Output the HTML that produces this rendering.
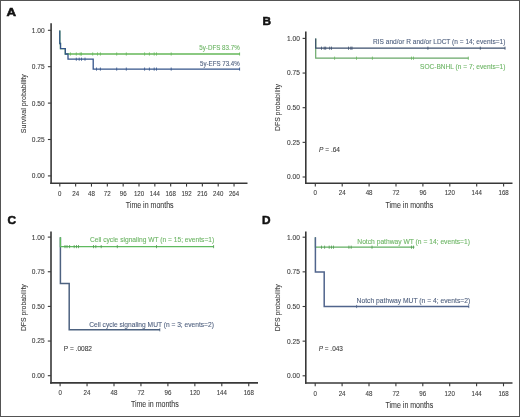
<!DOCTYPE html>
<html><head><meta charset="utf-8"><title>Kaplan-Meier curves</title>
<style>
html,body{margin:0;padding:0;background:#fff;}
body{width:520px;height:417px;overflow:hidden;}
.wrap{position:relative;width:520px;height:417px;box-sizing:border-box;border:1px solid #545454;background:#fff;}
svg{position:absolute;left:-1px;top:-1px;font-family:"Liberation Sans", sans-serif;will-change:transform;filter:blur(0.3px);}
</style></head>
<body><div class="wrap">
<svg width="520" height="417" viewBox="0 0 520 417">
<line x1="51.1" y1="23.2" x2="51.1" y2="184.1" stroke="#383838" stroke-width="1.6"/>
<line x1="50.3" y1="183.3" x2="247.5" y2="183.3" stroke="#383838" stroke-width="1.6"/>
<line x1="47.9" y1="30.3" x2="51.1" y2="30.3" stroke="#383838" stroke-width="1.1"/>
<text x="44.6" y="32.7" font-size="6.8" text-anchor="end" fill="#3c3c3c" stroke="#3c3c3c" stroke-width="0.1" font-weight="normal" font-style="normal" textLength="12.8" lengthAdjust="spacingAndGlyphs" >1.00</text>
<line x1="47.9" y1="66.7" x2="51.1" y2="66.7" stroke="#383838" stroke-width="1.1"/>
<text x="44.6" y="69.1" font-size="6.8" text-anchor="end" fill="#3c3c3c" stroke="#3c3c3c" stroke-width="0.1" font-weight="normal" font-style="normal" textLength="12.8" lengthAdjust="spacingAndGlyphs" >0.75</text>
<line x1="47.9" y1="103.1" x2="51.1" y2="103.1" stroke="#383838" stroke-width="1.1"/>
<text x="44.6" y="105.5" font-size="6.8" text-anchor="end" fill="#3c3c3c" stroke="#3c3c3c" stroke-width="0.1" font-weight="normal" font-style="normal" textLength="12.8" lengthAdjust="spacingAndGlyphs" >0.50</text>
<line x1="47.9" y1="139.5" x2="51.1" y2="139.5" stroke="#383838" stroke-width="1.1"/>
<text x="44.6" y="141.9" font-size="6.8" text-anchor="end" fill="#3c3c3c" stroke="#3c3c3c" stroke-width="0.1" font-weight="normal" font-style="normal" textLength="12.8" lengthAdjust="spacingAndGlyphs" >0.25</text>
<line x1="47.9" y1="175.9" x2="51.1" y2="175.9" stroke="#383838" stroke-width="1.1"/>
<text x="44.6" y="178.3" font-size="6.8" text-anchor="end" fill="#3c3c3c" stroke="#3c3c3c" stroke-width="0.1" font-weight="normal" font-style="normal" textLength="12.8" lengthAdjust="spacingAndGlyphs" >0.00</text>
<line x1="59.8" y1="183.3" x2="59.8" y2="186.6" stroke="#383838" stroke-width="1.1"/>
<text x="59.8" y="195.8" font-size="6.8" text-anchor="middle" fill="#3c3c3c" stroke="#3c3c3c" stroke-width="0.1" font-weight="normal" font-style="normal" textLength="3.4" lengthAdjust="spacingAndGlyphs" >0</text>
<line x1="75.64" y1="183.3" x2="75.64" y2="186.6" stroke="#383838" stroke-width="1.1"/>
<text x="75.64" y="195.8" font-size="6.8" text-anchor="middle" fill="#3c3c3c" stroke="#3c3c3c" stroke-width="0.1" font-weight="normal" font-style="normal" textLength="6.9" lengthAdjust="spacingAndGlyphs" >24</text>
<line x1="91.48" y1="183.3" x2="91.48" y2="186.6" stroke="#383838" stroke-width="1.1"/>
<text x="91.48" y="195.8" font-size="6.8" text-anchor="middle" fill="#3c3c3c" stroke="#3c3c3c" stroke-width="0.1" font-weight="normal" font-style="normal" textLength="6.9" lengthAdjust="spacingAndGlyphs" >48</text>
<line x1="107.32" y1="183.3" x2="107.32" y2="186.6" stroke="#383838" stroke-width="1.1"/>
<text x="107.32" y="195.8" font-size="6.8" text-anchor="middle" fill="#3c3c3c" stroke="#3c3c3c" stroke-width="0.1" font-weight="normal" font-style="normal" textLength="6.9" lengthAdjust="spacingAndGlyphs" >72</text>
<line x1="123.16" y1="183.3" x2="123.16" y2="186.6" stroke="#383838" stroke-width="1.1"/>
<text x="123.16" y="195.8" font-size="6.8" text-anchor="middle" fill="#3c3c3c" stroke="#3c3c3c" stroke-width="0.1" font-weight="normal" font-style="normal" textLength="6.9" lengthAdjust="spacingAndGlyphs" >96</text>
<line x1="139.0" y1="183.3" x2="139.0" y2="186.6" stroke="#383838" stroke-width="1.1"/>
<text x="139.0" y="195.8" font-size="6.8" text-anchor="middle" fill="#3c3c3c" stroke="#3c3c3c" stroke-width="0.1" font-weight="normal" font-style="normal" textLength="10.2" lengthAdjust="spacingAndGlyphs" >120</text>
<line x1="154.84" y1="183.3" x2="154.84" y2="186.6" stroke="#383838" stroke-width="1.1"/>
<text x="154.84" y="195.8" font-size="6.8" text-anchor="middle" fill="#3c3c3c" stroke="#3c3c3c" stroke-width="0.1" font-weight="normal" font-style="normal" textLength="10.2" lengthAdjust="spacingAndGlyphs" >144</text>
<line x1="170.68" y1="183.3" x2="170.68" y2="186.6" stroke="#383838" stroke-width="1.1"/>
<text x="170.68" y="195.8" font-size="6.8" text-anchor="middle" fill="#3c3c3c" stroke="#3c3c3c" stroke-width="0.1" font-weight="normal" font-style="normal" textLength="10.2" lengthAdjust="spacingAndGlyphs" >168</text>
<line x1="186.52" y1="183.3" x2="186.52" y2="186.6" stroke="#383838" stroke-width="1.1"/>
<text x="186.52" y="195.8" font-size="6.8" text-anchor="middle" fill="#3c3c3c" stroke="#3c3c3c" stroke-width="0.1" font-weight="normal" font-style="normal" textLength="10.2" lengthAdjust="spacingAndGlyphs" >192</text>
<line x1="202.36" y1="183.3" x2="202.36" y2="186.6" stroke="#383838" stroke-width="1.1"/>
<text x="202.36" y="195.8" font-size="6.8" text-anchor="middle" fill="#3c3c3c" stroke="#3c3c3c" stroke-width="0.1" font-weight="normal" font-style="normal" textLength="10.2" lengthAdjust="spacingAndGlyphs" >216</text>
<line x1="218.2" y1="183.3" x2="218.2" y2="186.6" stroke="#383838" stroke-width="1.1"/>
<text x="218.2" y="195.8" font-size="6.8" text-anchor="middle" fill="#3c3c3c" stroke="#3c3c3c" stroke-width="0.1" font-weight="normal" font-style="normal" textLength="10.2" lengthAdjust="spacingAndGlyphs" >240</text>
<line x1="234.04" y1="183.3" x2="234.04" y2="186.6" stroke="#383838" stroke-width="1.1"/>
<text x="234.04" y="195.8" font-size="6.8" text-anchor="middle" fill="#3c3c3c" stroke="#3c3c3c" stroke-width="0.1" font-weight="normal" font-style="normal" textLength="10.2" lengthAdjust="spacingAndGlyphs" >264</text>
<text x="149.7" y="207.9" font-size="9" text-anchor="middle" fill="#3c3c3c" stroke="#3c3c3c" stroke-width="0.1" font-weight="normal" font-style="normal" textLength="47.8" lengthAdjust="spacingAndGlyphs" >Time in months</text>
<text transform="translate(25.5,103.7) rotate(-90)" x="0" y="0" font-size="7.0" text-anchor="middle" fill="#3c3c3c" stroke="#3c3c3c" stroke-width="0.1" textLength="59.0" lengthAdjust="spacingAndGlyphs">Survival probability</text>
<text x="6.5" y="16.2" font-size="11.8" text-anchor="start" fill="#111" stroke="#111" stroke-width="0.55" font-weight="bold" font-style="normal" textLength="9.6" lengthAdjust="spacingAndGlyphs" >A</text>
<line x1="305.8" y1="31.5" x2="305.8" y2="184.0" stroke="#383838" stroke-width="1.6"/>
<line x1="305.0" y1="183.2" x2="512.5" y2="183.2" stroke="#383838" stroke-width="1.6"/>
<line x1="302.6" y1="38.4" x2="305.8" y2="38.4" stroke="#383838" stroke-width="1.1"/>
<text x="299.8" y="40.8" font-size="6.8" text-anchor="end" fill="#3c3c3c" stroke="#3c3c3c" stroke-width="0.1" font-weight="normal" font-style="normal" textLength="12.8" lengthAdjust="spacingAndGlyphs" >1.00</text>
<line x1="302.6" y1="73.05" x2="305.8" y2="73.05" stroke="#383838" stroke-width="1.1"/>
<text x="299.8" y="75.45" font-size="6.8" text-anchor="end" fill="#3c3c3c" stroke="#3c3c3c" stroke-width="0.1" font-weight="normal" font-style="normal" textLength="12.8" lengthAdjust="spacingAndGlyphs" >0.75</text>
<line x1="302.6" y1="107.7" x2="305.8" y2="107.7" stroke="#383838" stroke-width="1.1"/>
<text x="299.8" y="110.1" font-size="6.8" text-anchor="end" fill="#3c3c3c" stroke="#3c3c3c" stroke-width="0.1" font-weight="normal" font-style="normal" textLength="12.8" lengthAdjust="spacingAndGlyphs" >0.50</text>
<line x1="302.6" y1="142.35" x2="305.8" y2="142.35" stroke="#383838" stroke-width="1.1"/>
<text x="299.8" y="144.75" font-size="6.8" text-anchor="end" fill="#3c3c3c" stroke="#3c3c3c" stroke-width="0.1" font-weight="normal" font-style="normal" textLength="12.8" lengthAdjust="spacingAndGlyphs" >0.25</text>
<line x1="302.6" y1="177.0" x2="305.8" y2="177.0" stroke="#383838" stroke-width="1.1"/>
<text x="299.8" y="179.4" font-size="6.8" text-anchor="end" fill="#3c3c3c" stroke="#3c3c3c" stroke-width="0.1" font-weight="normal" font-style="normal" textLength="12.8" lengthAdjust="spacingAndGlyphs" >0.00</text>
<line x1="315.3" y1="183.2" x2="315.3" y2="186.5" stroke="#383838" stroke-width="1.1"/>
<text x="315.3" y="195.3" font-size="6.8" text-anchor="middle" fill="#3c3c3c" stroke="#3c3c3c" stroke-width="0.1" font-weight="normal" font-style="normal" textLength="3.4" lengthAdjust="spacingAndGlyphs" >0</text>
<line x1="342.2" y1="183.2" x2="342.2" y2="186.5" stroke="#383838" stroke-width="1.1"/>
<text x="342.2" y="195.3" font-size="6.8" text-anchor="middle" fill="#3c3c3c" stroke="#3c3c3c" stroke-width="0.1" font-weight="normal" font-style="normal" textLength="6.9" lengthAdjust="spacingAndGlyphs" >24</text>
<line x1="369.1" y1="183.2" x2="369.1" y2="186.5" stroke="#383838" stroke-width="1.1"/>
<text x="369.1" y="195.3" font-size="6.8" text-anchor="middle" fill="#3c3c3c" stroke="#3c3c3c" stroke-width="0.1" font-weight="normal" font-style="normal" textLength="6.9" lengthAdjust="spacingAndGlyphs" >48</text>
<line x1="396.0" y1="183.2" x2="396.0" y2="186.5" stroke="#383838" stroke-width="1.1"/>
<text x="396.0" y="195.3" font-size="6.8" text-anchor="middle" fill="#3c3c3c" stroke="#3c3c3c" stroke-width="0.1" font-weight="normal" font-style="normal" textLength="6.9" lengthAdjust="spacingAndGlyphs" >72</text>
<line x1="422.9" y1="183.2" x2="422.9" y2="186.5" stroke="#383838" stroke-width="1.1"/>
<text x="422.9" y="195.3" font-size="6.8" text-anchor="middle" fill="#3c3c3c" stroke="#3c3c3c" stroke-width="0.1" font-weight="normal" font-style="normal" textLength="6.9" lengthAdjust="spacingAndGlyphs" >96</text>
<line x1="449.8" y1="183.2" x2="449.8" y2="186.5" stroke="#383838" stroke-width="1.1"/>
<text x="449.8" y="195.3" font-size="6.8" text-anchor="middle" fill="#3c3c3c" stroke="#3c3c3c" stroke-width="0.1" font-weight="normal" font-style="normal" textLength="10.2" lengthAdjust="spacingAndGlyphs" >120</text>
<line x1="476.7" y1="183.2" x2="476.7" y2="186.5" stroke="#383838" stroke-width="1.1"/>
<text x="476.7" y="195.3" font-size="6.8" text-anchor="middle" fill="#3c3c3c" stroke="#3c3c3c" stroke-width="0.1" font-weight="normal" font-style="normal" textLength="10.2" lengthAdjust="spacingAndGlyphs" >144</text>
<line x1="503.6" y1="183.2" x2="503.6" y2="186.5" stroke="#383838" stroke-width="1.1"/>
<text x="503.6" y="195.3" font-size="6.8" text-anchor="middle" fill="#3c3c3c" stroke="#3c3c3c" stroke-width="0.1" font-weight="normal" font-style="normal" textLength="10.2" lengthAdjust="spacingAndGlyphs" >168</text>
<text x="409.4" y="207.6" font-size="9" text-anchor="middle" fill="#3c3c3c" stroke="#3c3c3c" stroke-width="0.1" font-weight="normal" font-style="normal" textLength="47.8" lengthAdjust="spacingAndGlyphs" >Time in months</text>
<text transform="translate(280.2,107.6) rotate(-90)" x="0" y="0" font-size="7.0" text-anchor="middle" fill="#3c3c3c" stroke="#3c3c3c" stroke-width="0.1" textLength="46.8" lengthAdjust="spacingAndGlyphs">DFS probability</text>
<text x="262.6" y="25.0" font-size="11.8" text-anchor="start" fill="#111" stroke="#111" stroke-width="0.55" font-weight="bold" font-style="normal" >B</text>
<line x1="51.0" y1="231.4" x2="51.0" y2="383.7" stroke="#383838" stroke-width="1.6"/>
<line x1="50.2" y1="382.9" x2="258.0" y2="382.9" stroke="#383838" stroke-width="1.6"/>
<line x1="47.8" y1="237.1" x2="51.0" y2="237.1" stroke="#383838" stroke-width="1.1"/>
<text x="44.6" y="239.5" font-size="6.8" text-anchor="end" fill="#3c3c3c" stroke="#3c3c3c" stroke-width="0.1" font-weight="normal" font-style="normal" textLength="12.8" lengthAdjust="spacingAndGlyphs" >1.00</text>
<line x1="47.8" y1="271.75" x2="51.0" y2="271.75" stroke="#383838" stroke-width="1.1"/>
<text x="44.6" y="274.15" font-size="6.8" text-anchor="end" fill="#3c3c3c" stroke="#3c3c3c" stroke-width="0.1" font-weight="normal" font-style="normal" textLength="12.8" lengthAdjust="spacingAndGlyphs" >0.75</text>
<line x1="47.8" y1="306.4" x2="51.0" y2="306.4" stroke="#383838" stroke-width="1.1"/>
<text x="44.6" y="308.8" font-size="6.8" text-anchor="end" fill="#3c3c3c" stroke="#3c3c3c" stroke-width="0.1" font-weight="normal" font-style="normal" textLength="12.8" lengthAdjust="spacingAndGlyphs" >0.50</text>
<line x1="47.8" y1="341.05" x2="51.0" y2="341.05" stroke="#383838" stroke-width="1.1"/>
<text x="44.6" y="343.45" font-size="6.8" text-anchor="end" fill="#3c3c3c" stroke="#3c3c3c" stroke-width="0.1" font-weight="normal" font-style="normal" textLength="12.8" lengthAdjust="spacingAndGlyphs" >0.25</text>
<line x1="47.8" y1="375.7" x2="51.0" y2="375.7" stroke="#383838" stroke-width="1.1"/>
<text x="44.6" y="378.1" font-size="6.8" text-anchor="end" fill="#3c3c3c" stroke="#3c3c3c" stroke-width="0.1" font-weight="normal" font-style="normal" textLength="12.8" lengthAdjust="spacingAndGlyphs" >0.00</text>
<line x1="60.1" y1="382.9" x2="60.1" y2="386.2" stroke="#383838" stroke-width="1.1"/>
<text x="60.1" y="395.0" font-size="6.8" text-anchor="middle" fill="#3c3c3c" stroke="#3c3c3c" stroke-width="0.1" font-weight="normal" font-style="normal" textLength="3.4" lengthAdjust="spacingAndGlyphs" >0</text>
<line x1="87.05" y1="382.9" x2="87.05" y2="386.2" stroke="#383838" stroke-width="1.1"/>
<text x="87.05" y="395.0" font-size="6.8" text-anchor="middle" fill="#3c3c3c" stroke="#3c3c3c" stroke-width="0.1" font-weight="normal" font-style="normal" textLength="6.9" lengthAdjust="spacingAndGlyphs" >24</text>
<line x1="114.0" y1="382.9" x2="114.0" y2="386.2" stroke="#383838" stroke-width="1.1"/>
<text x="114.0" y="395.0" font-size="6.8" text-anchor="middle" fill="#3c3c3c" stroke="#3c3c3c" stroke-width="0.1" font-weight="normal" font-style="normal" textLength="6.9" lengthAdjust="spacingAndGlyphs" >48</text>
<line x1="140.95" y1="382.9" x2="140.95" y2="386.2" stroke="#383838" stroke-width="1.1"/>
<text x="140.95" y="395.0" font-size="6.8" text-anchor="middle" fill="#3c3c3c" stroke="#3c3c3c" stroke-width="0.1" font-weight="normal" font-style="normal" textLength="6.9" lengthAdjust="spacingAndGlyphs" >72</text>
<line x1="167.9" y1="382.9" x2="167.9" y2="386.2" stroke="#383838" stroke-width="1.1"/>
<text x="167.9" y="395.0" font-size="6.8" text-anchor="middle" fill="#3c3c3c" stroke="#3c3c3c" stroke-width="0.1" font-weight="normal" font-style="normal" textLength="6.9" lengthAdjust="spacingAndGlyphs" >96</text>
<line x1="194.85" y1="382.9" x2="194.85" y2="386.2" stroke="#383838" stroke-width="1.1"/>
<text x="194.85" y="395.0" font-size="6.8" text-anchor="middle" fill="#3c3c3c" stroke="#3c3c3c" stroke-width="0.1" font-weight="normal" font-style="normal" textLength="10.2" lengthAdjust="spacingAndGlyphs" >120</text>
<line x1="221.8" y1="382.9" x2="221.8" y2="386.2" stroke="#383838" stroke-width="1.1"/>
<text x="221.8" y="395.0" font-size="6.8" text-anchor="middle" fill="#3c3c3c" stroke="#3c3c3c" stroke-width="0.1" font-weight="normal" font-style="normal" textLength="10.2" lengthAdjust="spacingAndGlyphs" >144</text>
<line x1="248.75" y1="382.9" x2="248.75" y2="386.2" stroke="#383838" stroke-width="1.1"/>
<text x="248.75" y="395.0" font-size="6.8" text-anchor="middle" fill="#3c3c3c" stroke="#3c3c3c" stroke-width="0.1" font-weight="normal" font-style="normal" textLength="10.2" lengthAdjust="spacingAndGlyphs" >168</text>
<text x="154.8" y="406.9" font-size="9" text-anchor="middle" fill="#3c3c3c" stroke="#3c3c3c" stroke-width="0.1" font-weight="normal" font-style="normal" textLength="47.8" lengthAdjust="spacingAndGlyphs" >Time in months</text>
<text transform="translate(25.7,307.7) rotate(-90)" x="0" y="0" font-size="7.0" text-anchor="middle" fill="#3c3c3c" stroke="#3c3c3c" stroke-width="0.1" textLength="46.8" lengthAdjust="spacingAndGlyphs">DFS probability</text>
<text x="7.4" y="223.8" font-size="11.8" text-anchor="start" fill="#111" stroke="#111" stroke-width="0.55" font-weight="bold" font-style="normal" >C</text>
<line x1="305.8" y1="231.4" x2="305.8" y2="383.8" stroke="#383838" stroke-width="1.6"/>
<line x1="305.0" y1="383.0" x2="512.5" y2="383.0" stroke="#383838" stroke-width="1.6"/>
<line x1="302.6" y1="237.2" x2="305.8" y2="237.2" stroke="#383838" stroke-width="1.1"/>
<text x="299.8" y="239.6" font-size="6.8" text-anchor="end" fill="#3c3c3c" stroke="#3c3c3c" stroke-width="0.1" font-weight="normal" font-style="normal" textLength="12.8" lengthAdjust="spacingAndGlyphs" >1.00</text>
<line x1="302.6" y1="271.85" x2="305.8" y2="271.85" stroke="#383838" stroke-width="1.1"/>
<text x="299.8" y="274.25" font-size="6.8" text-anchor="end" fill="#3c3c3c" stroke="#3c3c3c" stroke-width="0.1" font-weight="normal" font-style="normal" textLength="12.8" lengthAdjust="spacingAndGlyphs" >0.75</text>
<line x1="302.6" y1="306.5" x2="305.8" y2="306.5" stroke="#383838" stroke-width="1.1"/>
<text x="299.8" y="308.9" font-size="6.8" text-anchor="end" fill="#3c3c3c" stroke="#3c3c3c" stroke-width="0.1" font-weight="normal" font-style="normal" textLength="12.8" lengthAdjust="spacingAndGlyphs" >0.50</text>
<line x1="302.6" y1="341.15" x2="305.8" y2="341.15" stroke="#383838" stroke-width="1.1"/>
<text x="299.8" y="343.55" font-size="6.8" text-anchor="end" fill="#3c3c3c" stroke="#3c3c3c" stroke-width="0.1" font-weight="normal" font-style="normal" textLength="12.8" lengthAdjust="spacingAndGlyphs" >0.25</text>
<line x1="302.6" y1="375.8" x2="305.8" y2="375.8" stroke="#383838" stroke-width="1.1"/>
<text x="299.8" y="378.2" font-size="6.8" text-anchor="end" fill="#3c3c3c" stroke="#3c3c3c" stroke-width="0.1" font-weight="normal" font-style="normal" textLength="12.8" lengthAdjust="spacingAndGlyphs" >0.00</text>
<line x1="315.2" y1="383.0" x2="315.2" y2="386.3" stroke="#383838" stroke-width="1.1"/>
<text x="315.2" y="395.5" font-size="6.8" text-anchor="middle" fill="#3c3c3c" stroke="#3c3c3c" stroke-width="0.1" font-weight="normal" font-style="normal" textLength="3.4" lengthAdjust="spacingAndGlyphs" >0</text>
<line x1="342.1" y1="383.0" x2="342.1" y2="386.3" stroke="#383838" stroke-width="1.1"/>
<text x="342.1" y="395.5" font-size="6.8" text-anchor="middle" fill="#3c3c3c" stroke="#3c3c3c" stroke-width="0.1" font-weight="normal" font-style="normal" textLength="6.9" lengthAdjust="spacingAndGlyphs" >24</text>
<line x1="369.0" y1="383.0" x2="369.0" y2="386.3" stroke="#383838" stroke-width="1.1"/>
<text x="369.0" y="395.5" font-size="6.8" text-anchor="middle" fill="#3c3c3c" stroke="#3c3c3c" stroke-width="0.1" font-weight="normal" font-style="normal" textLength="6.9" lengthAdjust="spacingAndGlyphs" >48</text>
<line x1="395.9" y1="383.0" x2="395.9" y2="386.3" stroke="#383838" stroke-width="1.1"/>
<text x="395.9" y="395.5" font-size="6.8" text-anchor="middle" fill="#3c3c3c" stroke="#3c3c3c" stroke-width="0.1" font-weight="normal" font-style="normal" textLength="6.9" lengthAdjust="spacingAndGlyphs" >72</text>
<line x1="422.8" y1="383.0" x2="422.8" y2="386.3" stroke="#383838" stroke-width="1.1"/>
<text x="422.8" y="395.5" font-size="6.8" text-anchor="middle" fill="#3c3c3c" stroke="#3c3c3c" stroke-width="0.1" font-weight="normal" font-style="normal" textLength="6.9" lengthAdjust="spacingAndGlyphs" >96</text>
<line x1="449.7" y1="383.0" x2="449.7" y2="386.3" stroke="#383838" stroke-width="1.1"/>
<text x="449.7" y="395.5" font-size="6.8" text-anchor="middle" fill="#3c3c3c" stroke="#3c3c3c" stroke-width="0.1" font-weight="normal" font-style="normal" textLength="10.2" lengthAdjust="spacingAndGlyphs" >120</text>
<line x1="476.6" y1="383.0" x2="476.6" y2="386.3" stroke="#383838" stroke-width="1.1"/>
<text x="476.6" y="395.5" font-size="6.8" text-anchor="middle" fill="#3c3c3c" stroke="#3c3c3c" stroke-width="0.1" font-weight="normal" font-style="normal" textLength="10.2" lengthAdjust="spacingAndGlyphs" >144</text>
<line x1="503.5" y1="383.0" x2="503.5" y2="386.3" stroke="#383838" stroke-width="1.1"/>
<text x="503.5" y="395.5" font-size="6.8" text-anchor="middle" fill="#3c3c3c" stroke="#3c3c3c" stroke-width="0.1" font-weight="normal" font-style="normal" textLength="10.2" lengthAdjust="spacingAndGlyphs" >168</text>
<text x="409.4" y="407.6" font-size="9" text-anchor="middle" fill="#3c3c3c" stroke="#3c3c3c" stroke-width="0.1" font-weight="normal" font-style="normal" textLength="47.8" lengthAdjust="spacingAndGlyphs" >Time in months</text>
<text transform="translate(280.2,307.8) rotate(-90)" x="0" y="0" font-size="7.0" text-anchor="middle" fill="#3c3c3c" stroke="#3c3c3c" stroke-width="0.1" textLength="46.8" lengthAdjust="spacingAndGlyphs">DFS probability</text>
<text x="262.0" y="224.4" font-size="11.8" text-anchor="start" fill="#111" stroke="#111" stroke-width="0.55" font-weight="bold" font-style="normal" >D</text>
<polyline points="59.8,30.4 59.8,43.5 60.5,43.5 60.5,48.6 65.3,48.6 65.3,54.0 240,54.0" fill="none" stroke="#66b85a" stroke-width="1.3" stroke-linejoin="miter" stroke-linecap="butt"/>
<line x1="70.4" y1="52.4" x2="70.4" y2="55.6" stroke="#66b85a" stroke-width="0.8"/>
<line x1="76.3" y1="52.4" x2="76.3" y2="55.6" stroke="#66b85a" stroke-width="0.8"/>
<line x1="80.2" y1="52.4" x2="80.2" y2="55.6" stroke="#66b85a" stroke-width="0.8"/>
<line x1="81.5" y1="52.4" x2="81.5" y2="55.6" stroke="#66b85a" stroke-width="0.8"/>
<line x1="92.7" y1="52.4" x2="92.7" y2="55.6" stroke="#66b85a" stroke-width="0.8"/>
<line x1="97.5" y1="52.4" x2="97.5" y2="55.6" stroke="#66b85a" stroke-width="0.8"/>
<line x1="100.4" y1="52.4" x2="100.4" y2="55.6" stroke="#66b85a" stroke-width="0.8"/>
<line x1="116.7" y1="52.4" x2="116.7" y2="55.6" stroke="#66b85a" stroke-width="0.8"/>
<line x1="126.3" y1="52.4" x2="126.3" y2="55.6" stroke="#66b85a" stroke-width="0.8"/>
<line x1="144.6" y1="52.4" x2="144.6" y2="55.6" stroke="#66b85a" stroke-width="0.8"/>
<line x1="149.4" y1="52.4" x2="149.4" y2="55.6" stroke="#66b85a" stroke-width="0.8"/>
<line x1="154.2" y1="52.4" x2="154.2" y2="55.6" stroke="#66b85a" stroke-width="0.8"/>
<line x1="156.5" y1="52.4" x2="156.5" y2="55.6" stroke="#66b85a" stroke-width="0.8"/>
<line x1="171.2" y1="52.4" x2="171.2" y2="55.6" stroke="#66b85a" stroke-width="0.8"/>
<line x1="239.6" y1="52.4" x2="239.6" y2="55.6" stroke="#66b85a" stroke-width="0.8"/>
<polyline points="59.8,30.4 59.8,43.5 60.5,43.5 60.5,48.6 65.3,48.6 65.3,54.0 68.0,54.0 68.0,59.2 93.2,59.2 93.2,69.1 240,69.1" fill="none" stroke="#34548a" stroke-width="1.3" stroke-linejoin="miter" stroke-linecap="butt"/>
<line x1="76.3" y1="57.6" x2="76.3" y2="60.8" stroke="#34548a" stroke-width="0.8"/>
<line x1="79.2" y1="57.6" x2="79.2" y2="60.8" stroke="#34548a" stroke-width="0.8"/>
<line x1="81.5" y1="57.6" x2="81.5" y2="60.8" stroke="#34548a" stroke-width="0.8"/>
<line x1="85.0" y1="57.6" x2="85.0" y2="60.8" stroke="#34548a" stroke-width="0.8"/>
<line x1="96.5" y1="67.5" x2="96.5" y2="70.7" stroke="#34548a" stroke-width="0.8"/>
<line x1="100.4" y1="67.5" x2="100.4" y2="70.7" stroke="#34548a" stroke-width="0.8"/>
<line x1="116.7" y1="67.5" x2="116.7" y2="70.7" stroke="#34548a" stroke-width="0.8"/>
<line x1="126.3" y1="67.5" x2="126.3" y2="70.7" stroke="#34548a" stroke-width="0.8"/>
<line x1="144.6" y1="67.5" x2="144.6" y2="70.7" stroke="#34548a" stroke-width="0.8"/>
<line x1="149.4" y1="67.5" x2="149.4" y2="70.7" stroke="#34548a" stroke-width="0.8"/>
<line x1="154.2" y1="67.5" x2="154.2" y2="70.7" stroke="#34548a" stroke-width="0.8"/>
<line x1="156.5" y1="67.5" x2="156.5" y2="70.7" stroke="#34548a" stroke-width="0.8"/>
<line x1="171.2" y1="67.5" x2="171.2" y2="70.7" stroke="#34548a" stroke-width="0.8"/>
<line x1="239.6" y1="67.5" x2="239.6" y2="70.7" stroke="#34548a" stroke-width="0.8"/>
<text x="239.7" y="50.4" font-size="6.7" text-anchor="end" fill="#6db565" stroke="#6db565" stroke-width="0.1" font-weight="normal" font-style="normal" textLength="40.4" lengthAdjust="spacingAndGlyphs" >5y-DFS 83.7%</text>
<text x="239.7" y="65.8" font-size="6.7" text-anchor="end" fill="#4e5f7e" stroke="#4e5f7e" stroke-width="0.1" font-weight="normal" font-style="normal" textLength="39.7" lengthAdjust="spacingAndGlyphs" >5y-EFS 73.4%</text>
<polyline points="315.7,38.4 315.7,58.2 468.5,58.2" fill="none" stroke="#6aa86a" stroke-width="1.2" stroke-linejoin="miter" stroke-linecap="butt"/>
<line x1="334.6" y1="56.6" x2="334.6" y2="59.8" stroke="#66b85a" stroke-width="0.8"/>
<line x1="356.5" y1="56.6" x2="356.5" y2="59.8" stroke="#66b85a" stroke-width="0.8"/>
<line x1="372.4" y1="56.6" x2="372.4" y2="59.8" stroke="#66b85a" stroke-width="0.8"/>
<line x1="411.5" y1="56.6" x2="411.5" y2="59.8" stroke="#66b85a" stroke-width="0.8"/>
<line x1="413.5" y1="56.6" x2="413.5" y2="59.8" stroke="#66b85a" stroke-width="0.8"/>
<line x1="468.3" y1="56.6" x2="468.3" y2="59.8" stroke="#66b85a" stroke-width="0.8"/>
<polyline points="315.7,38.4 315.7,48.2 505.2,48.2" fill="none" stroke="#3b4e6c" stroke-width="1.2" stroke-linejoin="miter" stroke-linecap="butt"/>
<line x1="321.5" y1="46.6" x2="321.5" y2="49.8" stroke="#3b4e6c" stroke-width="0.8"/>
<line x1="324.2" y1="46.6" x2="324.2" y2="49.8" stroke="#3b4e6c" stroke-width="0.8"/>
<line x1="325.7" y1="46.6" x2="325.7" y2="49.8" stroke="#3b4e6c" stroke-width="0.8"/>
<line x1="329.7" y1="46.6" x2="329.7" y2="49.8" stroke="#3b4e6c" stroke-width="0.8"/>
<line x1="331.5" y1="46.6" x2="331.5" y2="49.8" stroke="#3b4e6c" stroke-width="0.8"/>
<line x1="348.5" y1="46.6" x2="348.5" y2="49.8" stroke="#3b4e6c" stroke-width="0.8"/>
<line x1="350.8" y1="46.6" x2="350.8" y2="49.8" stroke="#3b4e6c" stroke-width="0.8"/>
<line x1="352.0" y1="46.6" x2="352.0" y2="49.8" stroke="#3b4e6c" stroke-width="0.8"/>
<line x1="427.9" y1="46.6" x2="427.9" y2="49.8" stroke="#3b4e6c" stroke-width="0.8"/>
<line x1="480.3" y1="46.6" x2="480.3" y2="49.8" stroke="#3b4e6c" stroke-width="0.8"/>
<line x1="505.0" y1="46.6" x2="505.0" y2="49.8" stroke="#3b4e6c" stroke-width="0.8"/>
<text x="505.4" y="43.5" font-size="6.7" text-anchor="end" fill="#4e5f7e" stroke="#4e5f7e" stroke-width="0.1" font-weight="normal" font-style="normal" textLength="132.4" lengthAdjust="spacingAndGlyphs" >RIS and/or R and/or LDCT (n = 14; events=1)</text>
<text x="505.4" y="68.8" font-size="6.7" text-anchor="end" fill="#6db565" stroke="#6db565" stroke-width="0.1" font-weight="normal" font-style="normal" textLength="85.4" lengthAdjust="spacingAndGlyphs" >SOC-BNHL (n = 7; events=1)</text>
<text x="319.1" y="151.8" font-size="6.6" fill="#3c3c3c" stroke="#3c3c3c" stroke-width="0.1" textLength="20.9" lengthAdjust="spacingAndGlyphs"><tspan font-style="italic">P</tspan> = .64</text>
<polyline points="60.4,237.2 60.4,283.5 69.2,283.5 69.2,329.8 160.0,329.8" fill="none" stroke="#4d6280" stroke-width="1.5" stroke-linejoin="miter" stroke-linecap="butt"/>
<line x1="159.8" y1="328.2" x2="159.8" y2="331.4" stroke="#4d6280" stroke-width="0.8"/>
<polyline points="60.4,237.2 60.4,246.6 213.8,246.6" fill="none" stroke="#5fba5f" stroke-width="1.4" stroke-linejoin="miter" stroke-linecap="butt"/>
<line x1="65.0" y1="245.0" x2="65.0" y2="248.2" stroke="#4f9a4f" stroke-width="0.8"/>
<line x1="67.0" y1="245.0" x2="67.0" y2="248.2" stroke="#4f9a4f" stroke-width="0.8"/>
<line x1="69.6" y1="245.0" x2="69.6" y2="248.2" stroke="#4f9a4f" stroke-width="0.8"/>
<line x1="74.2" y1="245.0" x2="74.2" y2="248.2" stroke="#4f9a4f" stroke-width="0.8"/>
<line x1="76.5" y1="245.0" x2="76.5" y2="248.2" stroke="#4f9a4f" stroke-width="0.8"/>
<line x1="78.5" y1="245.0" x2="78.5" y2="248.2" stroke="#4f9a4f" stroke-width="0.8"/>
<line x1="93.5" y1="245.0" x2="93.5" y2="248.2" stroke="#4f9a4f" stroke-width="0.8"/>
<line x1="95.8" y1="245.0" x2="95.8" y2="248.2" stroke="#4f9a4f" stroke-width="0.8"/>
<line x1="101.2" y1="245.0" x2="101.2" y2="248.2" stroke="#4f9a4f" stroke-width="0.8"/>
<line x1="117.3" y1="245.0" x2="117.3" y2="248.2" stroke="#4f9a4f" stroke-width="0.8"/>
<line x1="156.5" y1="245.0" x2="156.5" y2="248.2" stroke="#4f9a4f" stroke-width="0.8"/>
<line x1="213.6" y1="245.0" x2="213.6" y2="248.2" stroke="#4f9a4f" stroke-width="0.8"/>
<text x="89.9" y="242.2" font-size="6.7" text-anchor="start" fill="#6db565" stroke="#6db565" stroke-width="0.1" font-weight="normal" font-style="normal" textLength="124.3" lengthAdjust="spacingAndGlyphs" >Cell cycle signaling WT (n = 15; events=1)</text>
<text x="89.3" y="326.5" font-size="6.7" text-anchor="start" fill="#4e5f7e" stroke="#4e5f7e" stroke-width="0.1" font-weight="normal" font-style="normal" textLength="124.6" lengthAdjust="spacingAndGlyphs" >Cell cycle signaling MUT (n = 3; events=2)</text>
<text x="63.8" y="350.7" font-size="6.6" fill="#3c3c3c" stroke="#3c3c3c" stroke-width="0.1" textLength="28.2" lengthAdjust="spacingAndGlyphs">P = .0082</text>
<polyline points="315.4,237.2 315.4,247.2 414.4,247.2" fill="none" stroke="#62b062" stroke-width="1.2" stroke-linejoin="miter" stroke-linecap="butt"/>
<line x1="321.5" y1="245.6" x2="321.5" y2="248.8" stroke="#4f9a4f" stroke-width="0.8"/>
<line x1="324.6" y1="245.6" x2="324.6" y2="248.8" stroke="#4f9a4f" stroke-width="0.8"/>
<line x1="329.2" y1="245.6" x2="329.2" y2="248.8" stroke="#4f9a4f" stroke-width="0.8"/>
<line x1="331.5" y1="245.6" x2="331.5" y2="248.8" stroke="#4f9a4f" stroke-width="0.8"/>
<line x1="333.5" y1="245.6" x2="333.5" y2="248.8" stroke="#4f9a4f" stroke-width="0.8"/>
<line x1="348.9" y1="245.6" x2="348.9" y2="248.8" stroke="#4f9a4f" stroke-width="0.8"/>
<line x1="351.2" y1="245.6" x2="351.2" y2="248.8" stroke="#4f9a4f" stroke-width="0.8"/>
<line x1="372.0" y1="245.6" x2="372.0" y2="248.8" stroke="#4f9a4f" stroke-width="0.8"/>
<line x1="411.5" y1="245.6" x2="411.5" y2="248.8" stroke="#4f9a4f" stroke-width="0.8"/>
<line x1="413.5" y1="245.6" x2="413.5" y2="248.8" stroke="#4f9a4f" stroke-width="0.8"/>
<polyline points="315.4,237.2 315.4,271.9 324.2,271.9 324.2,306.5 469.0,306.5" fill="none" stroke="#50648c" stroke-width="1.5" stroke-linejoin="miter" stroke-linecap="butt"/>
<line x1="356.6" y1="304.9" x2="356.6" y2="308.1" stroke="#50648c" stroke-width="0.8"/>
<line x1="468.8" y1="304.9" x2="468.8" y2="308.1" stroke="#50648c" stroke-width="0.8"/>
<text x="357.3" y="243.8" font-size="6.7" text-anchor="start" fill="#6db565" stroke="#6db565" stroke-width="0.1" font-weight="normal" font-style="normal" textLength="112.7" lengthAdjust="spacingAndGlyphs" >Notch pathway WT (n = 14; events=1)</text>
<text x="356.6" y="302.7" font-size="6.7" text-anchor="start" fill="#4e5f7e" stroke="#4e5f7e" stroke-width="0.1" font-weight="normal" font-style="normal" textLength="113.6" lengthAdjust="spacingAndGlyphs" >Notch pathway MUT (n = 4; events=2)</text>
<text x="318.7" y="350.7" font-size="6.6" fill="#3c3c3c" stroke="#3c3c3c" stroke-width="0.1" textLength="24.2" lengthAdjust="spacingAndGlyphs"><tspan font-style="italic">P</tspan> = .043</text>
</svg>
</div></body></html>
